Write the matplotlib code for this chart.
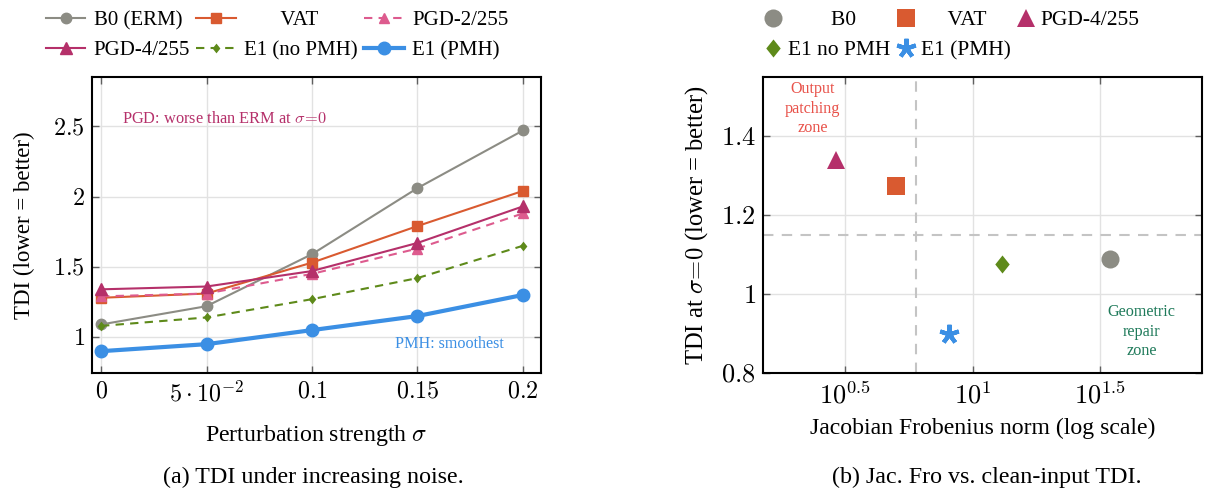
import matplotlib
matplotlib.use("Agg")
import matplotlib.pyplot as plt
import numpy as np

plt.rcParams['font.family'] = ['Liberation Serif', 'DejaVu Serif']
plt.rcParams['mathtext.fontset'] = 'cm'
plt.rcParams['font.size'] = 15

# ---------------- data ----------------
sigma = [0.0, 0.05, 0.1, 0.15, 0.2]
sigma_ticklabels = [r'$0$', r'$5\cdot10^{-2}$', r'$0.1$', r'$0.15$', r'$0.2$']
y1_ticks = [1, 1.5, 2, 2.5]
y1_ticklabels = [r'$1$', r'$1.5$', r'$2$', r'$2.5$']
b0_erm = [1.09, 1.22, 1.59, 2.06, 2.47]
vat = [1.28, 1.31, 1.53, 1.79, 2.04]
pgd2 = [1.29, 1.31, 1.45, 1.63, 1.88]
pgd4 = [1.34, 1.36, 1.47, 1.67, 1.93]
e1_nopmh = [1.08, 1.14, 1.27, 1.42, 1.65]
e1_pmh = [0.90, 0.95, 1.05, 1.15, 1.30]

scatter_labels = ['B0', 'VAT', 'PGD-4/255', 'E1 no PMH', 'E1 (PMH)']
jac_fro = [34.6, 5.0, 2.9, 13.1, 8.05]
tdi_clean = [1.09, 1.275, 1.34, 1.075, 0.90]
jac_threshold = 6.0
tdi_threshold = 1.15
x2_ticks = [10**0.5, 10**1, 10**1.5]
x2_ticklabels = [r'$10^{0.5}$', r'$10^{1}$', r'$10^{1.5}$']
y2_ticks = [0.8, 1.0, 1.2, 1.4]
y2_ticklabels = [r'$0.8$', r'$1$', r'$1.2$', r'$1.4$']

c_gray = '#8c8c84'
c_orange = '#d95a30'
c_pink = '#dd5b8e'
c_crimson = '#b5306a'
c_green = '#5e8a1a'
c_blue = '#3b8fe4'

ANN_FS = 11.6
diamond = [(0, 1), (0.8, 0), (0, -1), (-0.8, 0), (0, 1)]

fig = plt.figure(figsize=(12.18, 4.9), dpi=100)

# ---------------- left panel ----------------
ax1 = fig.add_axes([0.0755, 0.2388, 0.3686, 0.604])
l1, = ax1.plot(sigma, b0_erm, '-o', color=c_gray, lw=1.5, ms=7.5)
l2, = ax1.plot(sigma, vat, '-s', color=c_orange, lw=1.5, ms=7.5)
l3, = ax1.plot(sigma, pgd2, '--^', color=c_pink, lw=1.5, ms=6.5, dashes=(4, 3))
l4, = ax1.plot(sigma, pgd4, '-^', color=c_crimson, lw=1.5, ms=8)
l5, = ax1.plot(sigma, e1_nopmh, '--', marker=diamond, color=c_green, lw=1.5, ms=7,
               markeredgewidth=0, dashes=(4, 3))
l6, = ax1.plot(sigma, e1_pmh, '-o', color=c_blue, lw=3, ms=9)
ax1.set_xlim(-0.0043, 0.2085)
ax1.set_ylim(0.745, 2.85)
ax1.set_xticks(sigma)
ax1.set_xticklabels(sigma_ticklabels)
ax1.set_yticks(y1_ticks)
ax1.set_yticklabels(y1_ticklabels)
ax1.set_xlabel(r'Perturbation strength $\sigma$', fontsize=17.2, labelpad=12)
ax1.set_ylabel('TDI (lower = better)', fontsize=16.5, labelpad=13)
ax1.text(0.01, 2.55, r'PGD: worse than ERM at $\sigma\!=\!0$', color=c_crimson,
         fontsize=11.8, va='center', ha='left')
ax1.text(0.165, 0.95, 'PMH: smoothest', color=c_blue, fontsize=ANN_FS,
         va='center', ha='center')
fig.legend([l1, l4, l2, l5, l3, l6],
           ['B0 (ERM)', 'PGD-4/255', '       VAT', 'E1 (no PMH)', 'PGD-2/255', 'E1 (PMH)'],
           ncol=3, loc='center', bbox_to_anchor=(0.2275, 0.928), frameon=False,
           handlelength=1.9, columnspacing=0.3, handletextpad=0.4,
           labelspacing=0.5, fontsize=15)
fig.text(0.257, 0.025, '(a) TDI under increasing noise.', ha='center', va='center',
         fontsize=17.3)

# ---------------- right panel ----------------
ax2 = fig.add_axes([0.6262, 0.2388, 0.3604, 0.604])
ax2.set_xscale('log')
markers = ['o', 's', '^', diamond, (5, 2, 0)]
colors = [c_gray, c_orange, c_crimson, c_green, c_blue]
sizes = [13, 13, 13.5, 13, 14]
handles = []
for xv, yv, m, c, s in zip(jac_fro, tdi_clean, markers, colors, sizes):
    kw = dict(markeredgewidth=3) if isinstance(m, tuple) else dict(markeredgewidth=0)
    h, = ax2.plot([xv], [yv], linestyle='none', marker=m, color=c, ms=s, **kw)
    handles.append(h)
ax2.axvline(jac_threshold, color='#c4c4c4', ls=(0, (5, 4)), lw=1.5, zorder=1)
ax2.axhline(tdi_threshold, color='#c4c4c4', ls=(0, (5, 4)), lw=1.5, zorder=1)
ax2.set_xlim(1.5, 79.3)
ax2.set_ylim(0.8, 1.55)
ax2.set_xticks(x2_ticks)
ax2.set_xticklabels(x2_ticklabels)
ax2.xaxis.set_minor_locator(matplotlib.ticker.NullLocator())
ax2.set_yticks(y2_ticks)
ax2.set_yticklabels(y2_ticklabels)
ax2.set_xlabel('Jacobian Frobenius norm (log scale)', fontsize=17.1, labelpad=7)
ax2.set_ylabel(r'TDI at $\sigma\!=\!0$ (lower = better)', fontsize=17.7, labelpad=8)
ax2.text(2.35, 1.47, 'Output\npatching\nzone', color='#e8524a', fontsize=ANN_FS,
         ha='center', va='center', linespacing=1.3)
ax2.text(46, 0.905, 'Geometric\nrepair\nzone', color='#1f7a5a', fontsize=ANN_FS,
         ha='center', va='center', linespacing=1.3)
order = [0, 3, 1, 4, 2]
leg_labels = ['        B0', 'E1 no PMH', '     VAT', 'E1 (PMH)', 'PGD-4/255']
fig.legend([handles[i] for i in order], leg_labels, ncol=3, loc='center',
           bbox_to_anchor=(0.781, 0.928), frameon=False, handlelength=1.0,
           columnspacing=0.2, handletextpad=0.2, labelspacing=0.45, fontsize=15.5)
fig.text(0.81, 0.025, '(b) Jac. Fro vs. clean-input TDI.', ha='center', va='center',
         fontsize=17.3)

for ax, tfs in ((ax1, 17.3), (ax2, 19)):
    ax.grid(True, color='#e2e2e2', lw=1)
    ax.set_axisbelow(True)
    ax.tick_params(direction='in', top=True, right=True, color='#606060',
                   length=5, width=1, labelsize=tfs)
    ax.tick_params(axis='x', pad=6)
    ax.tick_params(axis='y', pad=5)
    for sp in ax.spines.values():
        sp.set_linewidth(1.5)

fig.savefig('out.png', dpi=100)
